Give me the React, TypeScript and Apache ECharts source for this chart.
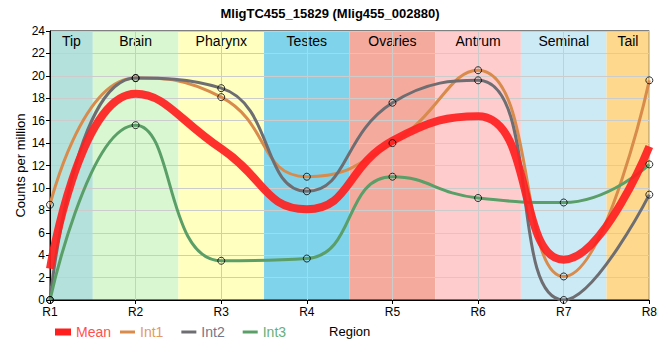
import React, { useEffect, useRef } from "react";
import * as echarts from "echarts";

const categories = ["R1", "R2", "R3", "R4", "R5", "R6", "R7", "R8"];
const regions = ["Tip", "Brain", "Pharynx", "Testes", "Ovaries", "Antrum", "Seminal", "Tail"];
const meanValues = [2.8, 18.4, 13.5, 8.1, 14.2, 16.4, 3.6, 13.7];
const int1Values = [8.5, 19.8, 18.1, 11.0, 14.0, 20.5, 2.1, 19.6];
const int2Values = [0, 19.8, 18.9, 9.7, 17.6, 19.6, 0, 9.4];
const int3Values = [0, 15.6, 3.5, 3.7, 11.0, 9.1, 8.7, 12.1];
const yTicks = { min: 0, max: 24, interval: 2 };

const bandColors = ["#b4e1dc", "#d9f7d0", "#ffffc0", "#7fd3eb", "#f5aa9e", "#ffcccd", "#cceaf5", "#fed98d"];
const FONT = "'Liberation Sans', Arial, sans-serif";

const toPoints = (vals: number[]) => vals.map((v, i) => [i + 1, v]);

export default function App() {
  const ref = useRef<HTMLDivElement>(null);
  useEffect(() => {
    if (!ref.current) return;
    document.body.style.margin = "0";
    const chart = echarts.init(ref.current, null, { renderer: "svg" });
    const n = categories.length;
    const lineSeries = (name: string, vals: number[], color: string, width: number, z: number, opacity = 1) => ({
      name,
      type: "line",
      data: toPoints(vals),
      smooth: 0.5,
      symbol: "none",
      showSymbol: false,
      z,
      itemStyle: { color },
      lineStyle: { color, width, opacity },
      clip: true,
    });
    const pointSeries = (name: string, vals: number[]) => ({
      name,
      type: "scatter",
      data: toPoints(vals),
      symbol: "circle",
      symbolSize: 7,
      z: 6,
      clip: false,
      itemStyle: { color: "rgba(0,0,0,0)", borderColor: "#000", borderWidth: 1 },
    });
    chart.setOption({
      animation: false,
      textStyle: { fontFamily: FONT },
      title: {
        text: "MligTC455_15829 (Mlig455_002880)",
        left: "center",
        top: 2,
        textStyle: { fontSize: 13, fontWeight: "bold", color: "#000", fontFamily: FONT },
      },
      grid: { left: 50, right: 10, top: 31, bottom: 60, show: true, borderColor: "#000", borderWidth: 1, backgroundColor: "transparent" },
      legend: [
        {
          left: 55,
          top: 325,
          padding: 0,
          itemWidth: 16,
          itemHeight: 7,
          textStyle: { fontSize: 14, fontFamily: FONT },
          data: [{ name: "Mean", icon: "rect", textStyle: { color: "#ff5050" } }],
        },
        {
          left: 120,
          top: 325,
          padding: 0,
          itemWidth: 15,
          itemHeight: 3,
          itemGap: 18,
          textStyle: { fontSize: 14, fontFamily: FONT },
          data: [
            { name: "Int1", icon: "rect", textStyle: { color: "#e39a62" } },
            { name: "Int2", icon: "rect", textStyle: { color: "#76768a" } },
            { name: "Int3", icon: "rect", textStyle: { color: "#68b07a" } },
          ],
        },
      ],
      xAxis: {
        type: "value",
        min: 1,
        max: n,
        interval: 1,
        name: "Region",
        nameLocation: "middle",
        nameGap: 25,
        nameTextStyle: { fontSize: 13, color: "#000", fontFamily: FONT },
        axisLine: { lineStyle: { color: "#000", width: 1 } },
        axisTick: { show: true, length: 4, lineStyle: { color: "#000" } },
        axisLabel: {
          fontSize: 12,
          color: "#000",
          margin: 6,
          fontFamily: FONT,
          formatter: (v: number) => categories[Math.round(v) - 1] ?? "",
        },
        splitLine: { show: true, lineStyle: { color: "#cccccc", width: 1 } },
      },
      yAxis: {
        type: "value",
        min: yTicks.min,
        max: yTicks.max,
        interval: yTicks.interval,
        name: "Counts per million",
        nameLocation: "middle",
        nameGap: 23,
        nameMoveOverlap: false,
        nameTextStyle: { fontSize: 13, color: "#000", fontFamily: FONT },
        axisLine: { show: true, lineStyle: { color: "#000", width: 1 } },
        axisTick: { show: true, length: 4, lineStyle: { color: "#000" } },
        axisLabel: { fontSize: 12, color: "#000", margin: 5, fontFamily: FONT },
        splitLine: { show: true, lineStyle: { color: "#cccccc", width: 1 } },
      },
      series: [
        {
          name: "bands",
          type: "custom",
          z: -1,
          silent: true,
          data: regions.map((_, i) => [i]),
          renderItem: (params: any, api: any) => {
            const i = api.value(0);
            const x0 = Math.max(1, i + 0.5);
            const x1 = Math.min(n, i + 1.5);
            const p0 = api.coord([x0, yTicks.max]);
            const p1 = api.coord([x1, yTicks.min]);
            return {
              type: "group",
              children: [
                {
                  type: "rect",
                  shape: { x: p0[0], y: p0[1], width: p1[0] - p0[0], height: p1[1] - p0[1] },
                  style: { fill: bandColors[i] },
                },
                {
                  type: "text",
                  x: (p0[0] + p1[0]) / 2,
                  y: p0[1] + 3,
                  style: {
                    text: regions[i],
                    fill: "#000",
                    fontSize: 14,
                    fontFamily: FONT,
                    align: "center",
                    verticalAlign: "top",
                  },
                },
              ],
            };
          },
        },
        lineSeries("Int1", int1Values, "#d98b4c", 3, 3),
        lineSeries("Int2", int2Values, "#6e6e72", 3, 3),
        lineSeries("Int3", int3Values, "#5a9e68", 3, 3),
        lineSeries("Mean", meanValues, "#ff1f1f", 8, 4, 0.92),
        pointSeries("p1", int1Values),
        pointSeries("p2", int2Values),
        pointSeries("p3", int3Values),
      ],
    });
    return () => chart.dispose();
  }, []);
  return <div ref={ref} style={{ width: 660, height: 360 }} />;
}
